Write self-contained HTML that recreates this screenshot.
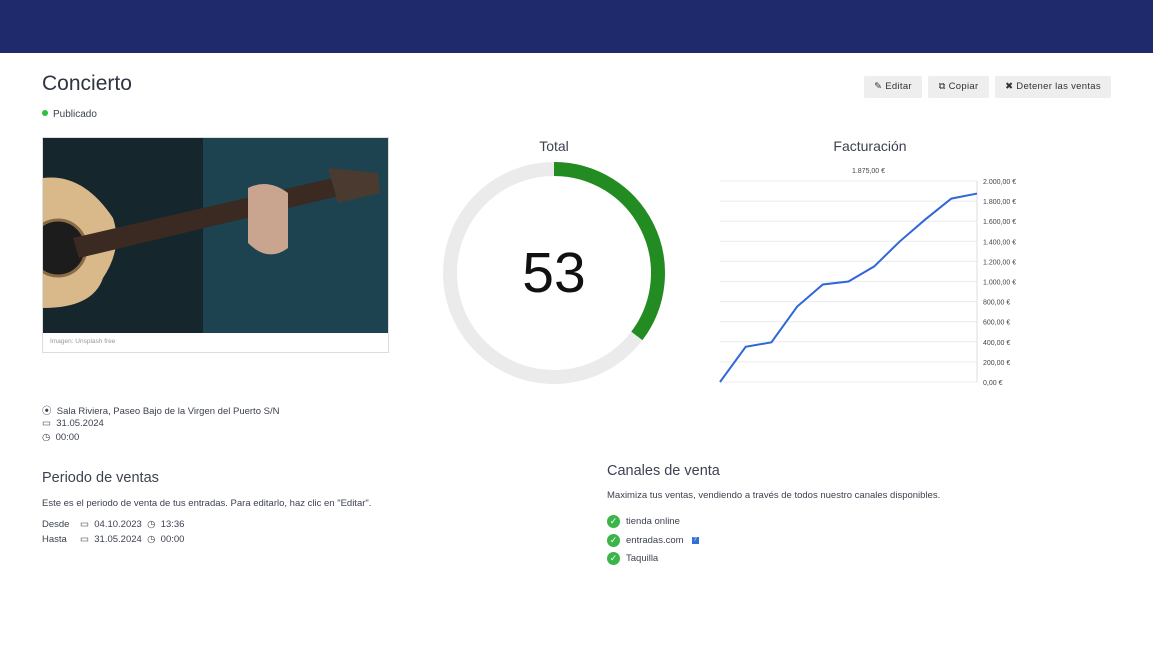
<!DOCTYPE html>
<html><head><meta charset="utf-8"><style>
body{margin:0;width:1153px;height:647px;background:#fff;font-family:"Liberation Sans",sans-serif;color:#3c4250;position:relative;overflow:hidden}
.a{position:absolute}
.btn{position:absolute;top:76px;height:22px;background:#eeeeee;border-radius:2px;font-size:9.5px;color:#333;line-height:22px;text-align:center;letter-spacing:.3px}
.sm{font-size:9.5px;color:#3c4250}
.ch{display:flex;align-items:center}
.ck{display:inline-block;width:13px;height:13px;border-radius:50%;background:#3bb54a;color:#fff;font-size:9px;text-align:center;line-height:13px;margin-right:6px}
</style></head><body>
<div class="a" style="left:0;top:0;width:1153px;height:53px;background:#1f2a6d"></div>
<div class="a" style="left:42px;top:72px;font-size:21px;color:#2e3440">Concierto</div>
<div class="a" style="left:42px;top:109px;font-size:10px"><span style="display:inline-block;width:6px;height:6px;border-radius:50%;background:#2fbf3f;margin-right:5px;vertical-align:1px"></span>Publicado</div>
<div class="btn" style="left:864px;width:58px">✎ Editar</div>
<div class="btn" style="left:928px;width:61px">⧉ Copiar</div>
<div class="btn" style="left:995px;width:116px">✖ Detener las ventas</div>

<div class="a" style="left:42px;top:137px;width:345px;height:214px;border:1px solid #ddd">
<svg width="345" height="195" style="display:block">
<rect width="345" height="195" fill="#1d4250"/>
<rect x="0" y="0" width="160" height="195" fill="#15262d"/>
<path d="M0 40 Q40 35 70 80 Q80 110 60 140 Q50 170 0 170Z" fill="#d9b98a"/>
<circle cx="15" cy="110" r="28" fill="#1c1c1c" stroke="#8a6b45" stroke-width="3"/>
<path d="M30 100 L290 40 L296 58 L36 120Z" fill="#3b2a22"/>
<path d="M285 30 L335 35 L337 55 L295 65Z" fill="#4a3a30"/>
<path d="M205 50 Q225 40 245 55 L245 110 Q225 125 205 105Z" fill="#c9a48e"/>
</svg>
<div class="a" style="left:7px;top:200px;font-size:6.5px;color:#999">Imagen: Unsplash free</div>
</div>

<div class="a" style="left:504px;top:138px;width:100px;text-align:center;font-size:14px">Total</div>
<svg class="a" style="left:440px;top:160px" width="228" height="228">
<circle cx="114" cy="113" r="104" fill="none" stroke="#ebebeb" stroke-width="14"/>
<path id="arc" fill="none" stroke="#228b22" stroke-width="14"/>
<text x="114" y="132" text-anchor="middle" font-size="57" fill="#111" font-family="Liberation Sans">53</text>
</svg>

<div class="a" style="left:800px;top:138px;width:140px;text-align:center;font-size:14px">Facturación</div>
<svg class="a" id="chart" style="left:700px;top:160px" width="340" height="235"></svg>

<div class="a sm" style="left:42px;top:403px">⦿&nbsp; Sala Riviera, Paseo Bajo de la Virgen del Puerto S/N</div>
<div class="a sm" style="left:42px;top:418px">▭&nbsp; 31.05.2024</div>
<div class="a sm" style="left:42px;top:432px">◷&nbsp; 00:00</div>

<div class="a" style="left:42px;top:470px;font-size:14.5px">Periodo de ventas</div>
<div class="a sm" style="left:42px;top:498px">Este es el periodo de venta de tus entradas. Para editarlo, haz clic en "Editar".</div>
<div class="a sm" style="left:42px;top:519px">Desde&nbsp;&nbsp;&nbsp; ▭&nbsp; 04.10.2023&nbsp; ◷&nbsp; 13:36</div>
<div class="a sm" style="left:42px;top:534px">Hasta&nbsp;&nbsp;&nbsp;&nbsp; ▭&nbsp; 31.05.2024&nbsp; ◷&nbsp; 00:00</div>

<div class="a" style="left:607px;top:463px;font-size:14.5px">Canales de venta</div>
<div class="a sm" style="left:607px;top:490px">Maximiza tus ventas, vendiendo a través de todos nuestro canales disponibles.</div>
<div class="a sm ch" style="left:607px;top:515px"><span class="ck">✓</span>tienda online</div>
<div class="a sm ch" style="left:607px;top:534px"><span class="ck">✓</span>entradas.com <span style="display:inline-block;width:7px;height:7px;background:#2f6fd6;color:#fff;font-size:6px;line-height:7px;text-align:center;margin-left:8px">?</span></div>
<div class="a sm ch" style="left:607px;top:552px"><span class="ck">✓</span>Taquilla</div>

<script>
const sold=[53];
const capacity=[150];
const revenue=[0,350,395,750,970,1000,1150,1400,1620,1825,1875];
const yTicks=[0,200,400,600,800,1000,1200,1400,1600,1800,2000];
const yLabels=["0,00 €","200,00 €","400,00 €","600,00 €","800,00 €","1.000,00 €","1.200,00 €","1.400,00 €","1.600,00 €","1.800,00 €","2.000,00 €"];
const maxLabel=["1.875,00 €"];
(function(){
 const f=sold[0]/capacity[0],a=f*2*Math.PI,cx=114,cy=113,r=104;
 const x=cx+r*Math.sin(a),y=cy-r*Math.cos(a);
 document.getElementById('arc').setAttribute('d',`M${cx} ${cy-r} A${r} ${r} 0 ${f>.5?1:0} 1 ${x} ${y}`);
})();
const svg=document.getElementById('chart'),NS='http://www.w3.org/2000/svg';
const x0=20,x1=277,yb=222,yt=21;
const X=i=>x0+(x1-x0)*i/(revenue.length-1);
const Y=v=>yb-(yb-yt)*v/2000;
function mk(t,o){const e=document.createElementNS(NS,t);for(const k in o)e.setAttribute(k,o[k]);svg.appendChild(e);return e;}
yTicks.forEach((t,i)=>{
 const g=mk('line',{x1:x0,x2:x1,y1:Y(t),y2:Y(t),stroke:'#ececec'});
 
 
 const l=mk('text',{x:x1+6,y:Y(t)+3,'font-size':7,fill:'#444','font-family':'Liberation Sans'});
 l.textContent=yLabels[i];
 
 
});
const ax=mk('line',{x1:x1,x2:x1,y1:yt,y2:yb,stroke:'#ddd'});


const p=mk('polyline',{points:revenue.map((v,i)=>X(i)+','+Y(v)).join(' '),fill:'none',stroke:'#2f66d8','stroke-width':2});


const m=mk('text',{x:(x0+x1)/2+20,y:13,'font-size':7,'text-anchor':'middle',fill:'#444','font-family':'Liberation Sans'});
m.textContent=maxLabel[0];


</script>
</body></html>
